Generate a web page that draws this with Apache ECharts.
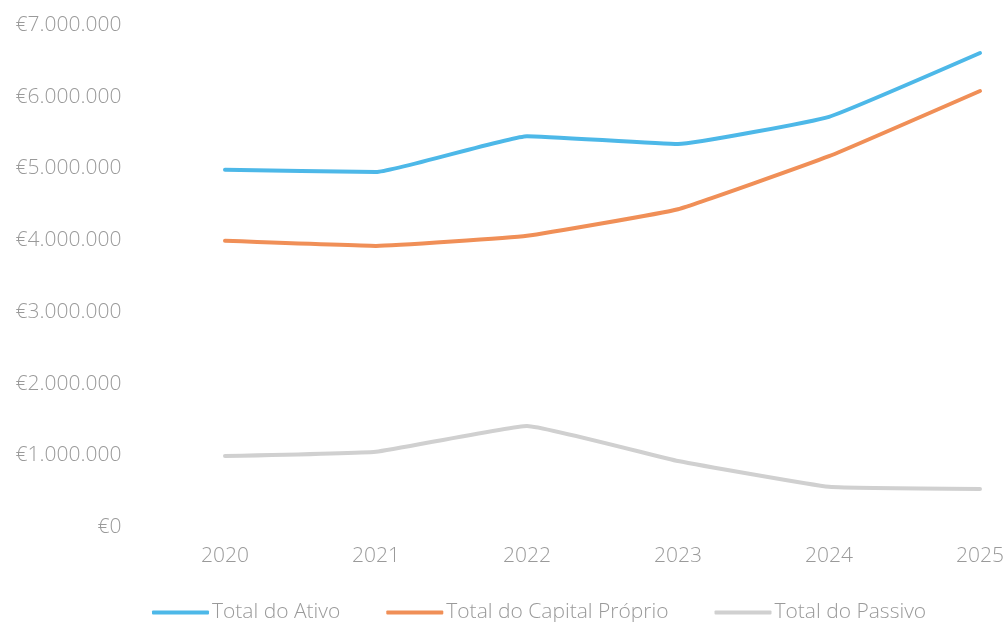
<!DOCTYPE html>
<html>
<head>
<meta charset="utf-8">
<script src="https://cdn.jsdelivr.net/npm/echarts@6/dist/echarts.min.js"></script>
<style>html,body{margin:0;padding:0;background:#fff}#c{width:1004px;height:622px}</style>
</head>
<body>
<div id="c"></div>
<script>
var years = ['2020', '2021', '2022', '2023', '2024', '2025'];
var totalAtivo = [4980000, 4950000, 5450000, 5340000, 5720000, 6610000];
var totalCapitalProprio = [3990000, 3920000, 4060000, 4430000, 5170000, 6080000];
var totalPassivo = [990000, 1050000, 1410000, 920000, 560000, 530000];
var seriesNames = ['Total do Ativo', 'Total do Capital Próprio', 'Total do Passivo'];

function fmtEuro(v) {
  var s = Math.round(v).toString().replace(/\B(?=(\d{3})+(?!\d))/g, '.');
  return '€' + s;
}

var chart = echarts.init(document.getElementById('c'), null, {renderer: 'canvas'});
var font = 'Open Sans';
var txt = '#9a9a9a';
var colors = ['#4db8e8', '#f08f57', '#d0d0d0'];
var data = [totalAtivo, totalCapitalProprio, totalPassivo];

chart.setOption({
  animation: false,
  backgroundColor: '#ffffff',
  color: colors,
  grid: {left: 149.5, width: 906, top: 25, bottom: 95, containLabel: false, outerBoundsMode: 'none'},
  legend: {
    top: 597,
    left: 147,
    itemWidth: 57,
    itemHeight: 4,
    itemGap: 46,
    icon: 'roundRect',
    textStyle: {color: txt, fontFamily: font, fontWeight: 300, fontSize: 21, padding: [0,0,0,-2]},
    data: seriesNames
  },
  xAxis: {
    type: 'category',
    data: years,
    boundaryGap: true,
    axisLine: {show: false},
    axisTick: {show: false},
    axisLabel: {color: txt, fontFamily: font, fontWeight: 300, fontSize: 21, margin: 19}
  },
  yAxis: {
    type: 'value',
    min: 0,
    max: 7000000,
    interval: 1000000,
    splitLine: {show: false},
    axisLine: {show: false},
    axisTick: {show: false},
    axisLabel: {color: txt, fontFamily: font, fontWeight: 300, fontSize: 21, margin: 28, formatter: fmtEuro}
  },
  series: seriesNames.map(function (n, i) {
    return {
      name: n,
      type: 'line',
      data: data[i],
      smooth: 0.1,
      symbol: 'none',
      lineStyle: {width: 4, color: colors[i], cap: 'round'}
    };
  })
});
</script>
</body>
</html>
